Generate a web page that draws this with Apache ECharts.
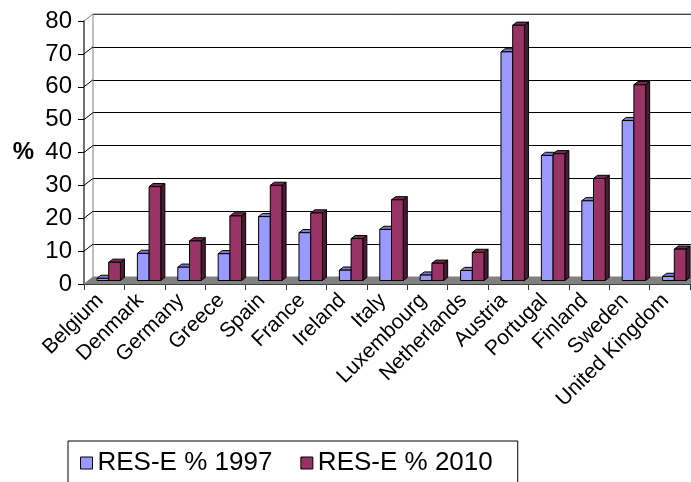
<!DOCTYPE html>
<html>
<head>
<meta charset="utf-8">
<script src="https://cdn.jsdelivr.net/npm/echarts@6/dist/echarts.min.js"></script>
<style>
html,body{margin:0;padding:0;background:#fff;}
#main{width:691px;height:482px;}
</style>
</head>
<body>
<div id="main"></div>
<script>
// countries along the x axis
var countries = ['Belgium','Denmark','Germany','Greece','Spain','France','Ireland','Italy',
    'Luxembourg','Netherlands','Austria','Portugal','Finland','Sweden','United Kingdom'];
// share of renewable electricity (%)
var res1997 = [1.1, 8.7, 4.5, 8.6, 19.9, 15.0, 3.6, 16.0, 2.1, 3.5, 70.0, 38.5, 24.7, 49.1, 1.7];
var res2010 = [6.0, 29.0, 12.5, 20.1, 29.4, 21.0, 13.2, 25.0, 5.7, 9.0, 78.1, 39.0, 31.5, 60.0, 10.0];
var seriesNames = ['RES-E % 1997', 'RES-E % 2010'];
var yTicks = [0, 10, 20, 30, 40, 50, 60, 70, 80];

var DX = 9, DY = -7;          // depth of the 3d box
var font = 'Liberation Sans, Arial, sans-serif';

var chart = echarts.init(document.getElementById('main'));

function toData(arr){
    var d = [];
    for (var i = 0; i < arr.length; i++) d.push([i, arr[i]]);
    return d;
}

// 3d-looking bar : front face, top face, right side
function barRenderer(idx, front, top, side){
    return function(params, api){
        var cat = api.value(0), v = api.value(1);
        var band = api.size([1, 0])[0];
        var base = api.coord([cat, 0]);
        var tp = api.coord([cat, v]);
        var w = band * 0.29;
        var sx = DX * 0.5, sy = DY * 0.5;
        var dx = DX * 0.45, dy = DY * 0.45;
        var xl = base[0] + sx - w + idx * w;
        var xr = xl + w;
        var yb = base[1] + sy;
        var yt = tp[1] + sy + 1.5;
        return {
            type:'group',
            children:[
                {type:'polygon', shape:{points:[[xr,yt],[xr+dx,yt+dy],[xr+dx,yb+dy],[xr,yb]]},
                    style:{fill:side, stroke:'#000', lineWidth:1}},
                {type:'polygon', shape:{points:[[xl,yt],[xr,yt],[xr+dx,yt+dy],[xl+dx,yt+dy]]},
                    style:{fill:top, stroke:'#000', lineWidth:1}},
                {type:'rect', shape:{x:xl, y:yt, width:w, height:yb-yt},
                    style:{fill:front, stroke:'#000', lineWidth:1}}
            ]
        };
    };
}

var option = {
    animation:false,
    backgroundColor:'#fff',
    grid:[
        {left:84, right:1, top:21, bottom:198},
        {left:93, right:0, top:14, bottom:205}
    ],
    xAxis:[
        {type:'category', gridIndex:0, data:countries, boundaryGap:true,
            axisLine:{show:true, lineStyle:{color:'#000', width:1}},
            axisTick:{show:true, interval:0, length:6, lineStyle:{color:'#333'}},
            axisLabel:{interval:0, rotate:45, margin:9, fontSize:21, color:'#000',
                fontFamily:font, padding:[0, 6, 0, 0]}},
        {type:'category', gridIndex:1, data:countries, show:false}
    ],
    yAxis:[
        {type:'value', gridIndex:0, min:0, max:80, interval:10,
            name:'%', nameLocation:'middle', nameRotate:0, nameGap:50,
            nameTextStyle:{fontSize:24, fontWeight:'bold', color:'#000', fontFamily:font},
            axisLine:{show:true, lineStyle:{color:'#404040', width:1.5}},
            axisTick:{show:true, length:6, lineStyle:{color:'#000'}},
            axisLabel:{fontSize:24, color:'#000', margin:12, fontFamily:font},
            splitLine:{show:false}},
        {type:'value', gridIndex:1, min:0, max:80, interval:10,
            axisLine:{show:false}, axisTick:{show:false}, axisLabel:{show:false},
            splitLine:{show:true, lineStyle:{color:'#000', width:1}}}
    ],
    legend:{
        data:seriesNames, left:68, top:441, orient:'horizontal',
        padding:[9, 25, 7, 12], itemGap:28, itemWidth:12, itemHeight:12,
        icon:'rect', borderColor:'#000', borderWidth:1, backgroundColor:'#fff',
        itemStyle:{borderColor:'#000', borderWidth:1},
        textStyle:{fontSize:26, color:'#000', fontFamily:font}
    },
    series:[
        {   // floor, left wall and wall edges
            type:'custom', xAxisIndex:0, yAxisIndex:0, silent:true, z:1, clip:false,
            data:[[0, 0]],
            encode:{x:0, y:1},
            renderItem:function(params, api){
                var band = api.size([1, 0])[0];
                var p0 = api.coord([0, 0]);
                var pe = api.coord([countries.length - 1, 0]);
                var left = p0[0] - band / 2, right = pe[0] + band / 2;
                var y0 = p0[1], yTop = api.coord([0, yTicks[yTicks.length - 1]])[1];
                var kids = [
                    {type:'polygon', shape:{points:[[left,y0],[right,y0],[right+DX,y0+DY],[left+DX,y0+DY]]},
                        style:{fill:'#808080', stroke:'#808080', lineWidth:1}},
                    {type:'polyline', shape:{points:[[left,yTop],[left+DX,yTop+DY],[right+DX,yTop+DY]]},
                        style:{fill:null, stroke:'#808080', lineWidth:1}},
                    {type:'line', shape:{x1:left+DX, y1:yTop+DY, x2:left+DX, y2:y0+DY},
                        style:{stroke:'#808080', lineWidth:1}}
                ];
                // gridline diagonals across the left wall
                for (var i = 1; i < yTicks.length - 1; i++){
                    var yy = api.coord([0, yTicks[i]])[1];
                    kids.push({type:'line', shape:{x1:left, y1:yy, x2:left+DX, y2:yy+DY},
                        style:{stroke:'#000', lineWidth:1}});
                }
                return {type:'group', children:kids};
            }
        },
        {
            name:seriesNames[0], type:'custom', xAxisIndex:0, yAxisIndex:0, z:2, clip:false,
            itemStyle:{color:'#9999FF', borderColor:'#000', borderWidth:1},
            data:toData(res1997), encode:{x:0, y:1},
            renderItem:barRenderer(0, '#9999FF', '#7B7BD6', '#4C4C80')
        },
        {
            name:seriesNames[1], type:'custom', xAxisIndex:0, yAxisIndex:0, z:3, clip:false,
            itemStyle:{color:'#993366', borderColor:'#000', borderWidth:1},
            data:toData(res2010), encode:{x:0, y:1},
            renderItem:barRenderer(1, '#993366', '#7A2952', '#4D1933')
        }
    ]
};
chart.setOption(option);
</script>
</body>
</html>
